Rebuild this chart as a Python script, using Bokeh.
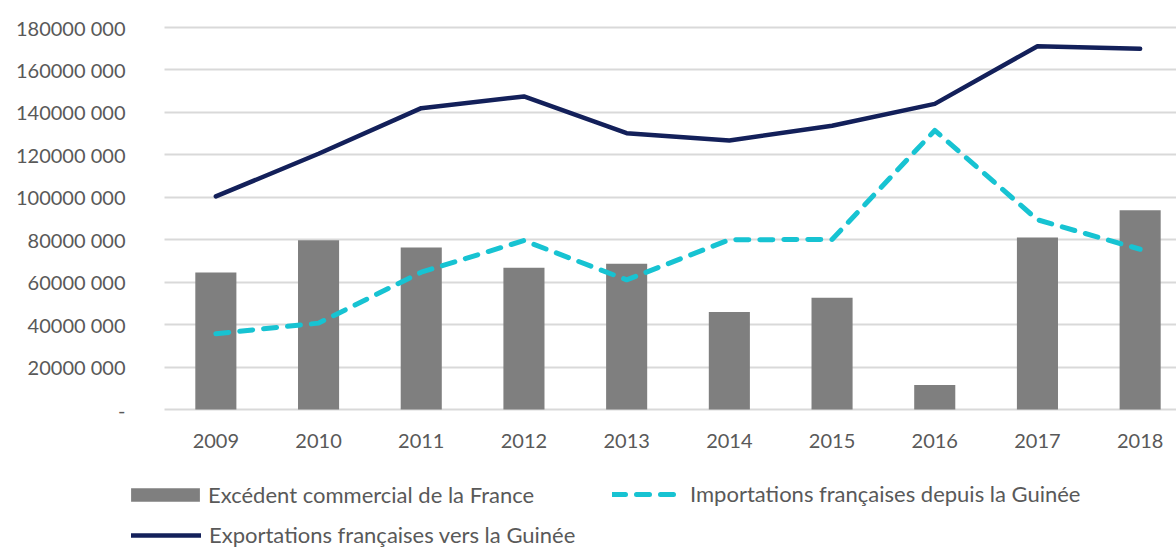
from bokeh.plotting import figure
from bokeh.models import Range1d, FixedTicker, Legend, LegendItem, ColumnDataSource, Grid, LinearAxis
from bokeh.embed import file_html
from bokeh.resources import INLINE

years = ["2009", "2010", "2011", "2012", "2013", "2014", "2015", "2016", "2017", "2018"]
excedent = [64.5e6, 79.7e6, 76.3e6, 66.8e6, 68.7e6, 45.9e6, 52.6e6, 11.5e6, 81.0e6, 93.9e6]
importations = [35.7e6, 40.7e6, 64.7e6, 79.6e6, 61.1e6, 80.0e6, 80.1e6, 131.5e6, 89.4e6, 75.5e6]
exportations = [100.4e6, 120.5e6, 142.0e6, 147.5e6, 130.2e6, 126.8e6, 133.7e6, 144.0e6, 171.2e6, 170.0e6]
y_ticks = [0, 20e6, 40e6, 60e6, 80e6, 100e6, 120e6, 140e6, 160e6, 180e6]
y_tick_labels = ["-", "20000 000", "40000 000", "60000 000", "80000 000", "100000 000",
                 "120000 000", "140000 000", "160000 000", "180000 000"]
series_names = ["Excédent commercial de la France",
                "Importations françaises depuis la Guinée",
                "Exportations françaises vers la Guinée"]

FONT = "Lato"
TXT = "#595959"
C_BAR = "#7F7F7F"
C_IMP = "#17C3D2"
C_EXP = "#13205A"

# layout geometry (pixels): plot area spans x 164..1176, y 27..409 of a 1176x548 canvas
W, H = 1176, 548
PX_PER_CAT = 102.7
LEFT, TOP, BOTTOM = 164, 27, 409
YMAX = 180e6
y_per_px = YMAX / (BOTTOM - TOP)
x_start = -0.5 - LEFT / PX_PER_CAT
x_end = -0.5 + (W - LEFT) / PX_PER_CAT
y_end = YMAX + TOP * y_per_px
y_start = -(H - BOTTOM) * y_per_px

xs = list(range(len(years)))
src = ColumnDataSource(dict(x=xs, exc=excedent, imp=importations, exp=exportations))

p = figure(width=W, height=H, output_backend="svg", toolbar_location=None,
           x_range=Range1d(x_start, x_end), y_range=Range1d(y_start, y_end),
           min_border_left=0, min_border_right=0, min_border_top=0, min_border_bottom=0,
           x_axis_location=None, y_axis_location=None)
p.outline_line_color = None
p.border_fill_color = "white"
p.xgrid.visible = False
p.ygrid.visible = False

grid = Grid(dimension=1, ticker=FixedTicker(ticks=y_ticks),
            grid_line_color="#D9D9D9", grid_line_width=2)
if "cross_bounds" in type(grid).properties():
    grid.cross_bounds = (-0.5, x_end)
p.add_layout(grid)

bars = p.vbar(x="x", top="exc", width=0.4, source=src, fill_color=C_BAR, line_color=None)
imp = p.line(x="x", y="imp", source=src, line_color=C_IMP, line_width=5,
             line_dash="13 11", line_cap="round", line_join="round")
exp = p.line(x="x", y="exp", source=src, line_color=C_EXP, line_width=4.5,
             line_cap="round", line_join="round")

xaxis = LinearAxis(fixed_location=0, ticker=FixedTicker(ticks=xs),
                   major_label_overrides={i: y for i, y in enumerate(years)})
yaxis = LinearAxis(fixed_location=-0.5, ticker=FixedTicker(ticks=y_ticks),
                   major_label_overrides={int(t): l for t, l in zip(y_ticks, y_tick_labels)})
for ax in (xaxis, yaxis):
    ax.axis_line_color = None
    ax.major_tick_line_color = None
    ax.minor_tick_line_color = None
    ax.major_tick_out = 0
    ax.major_tick_in = 0
    ax.major_label_text_font = FONT
    ax.major_label_text_font_size = "20px"
    ax.major_label_text_color = TXT
yaxis.major_label_standoff = 39
xaxis.major_label_standoff = 24
p.add_layout(xaxis, "below")
p.add_layout(yaxis, "left")

def mk_legend(label, r, loc, gw=70, gh=14, standoff=8):
    leg = Legend(items=[LegendItem(label=label, renderers=[r])], location=loc,
                 orientation="horizontal", padding=0, margin=0, spacing=0,
                 border_line_color=None, background_fill_alpha=0,
                 glyph_width=gw, glyph_height=gh, label_standoff=standoff,
                 label_text_font=FONT, label_text_font_size="22px", label_text_color=TXT,
                 label_height=20)
    p.add_layout(leg, "center")

mk_legend(series_names[0], bars, (122, 40), gw=86, gh=17, standoff=0)
mk_legend(series_names[1], imp, (612, 41))
mk_legend(series_names[2], exp, (131, 0))

open("out.html", "w").write(file_html(p, INLINE))
